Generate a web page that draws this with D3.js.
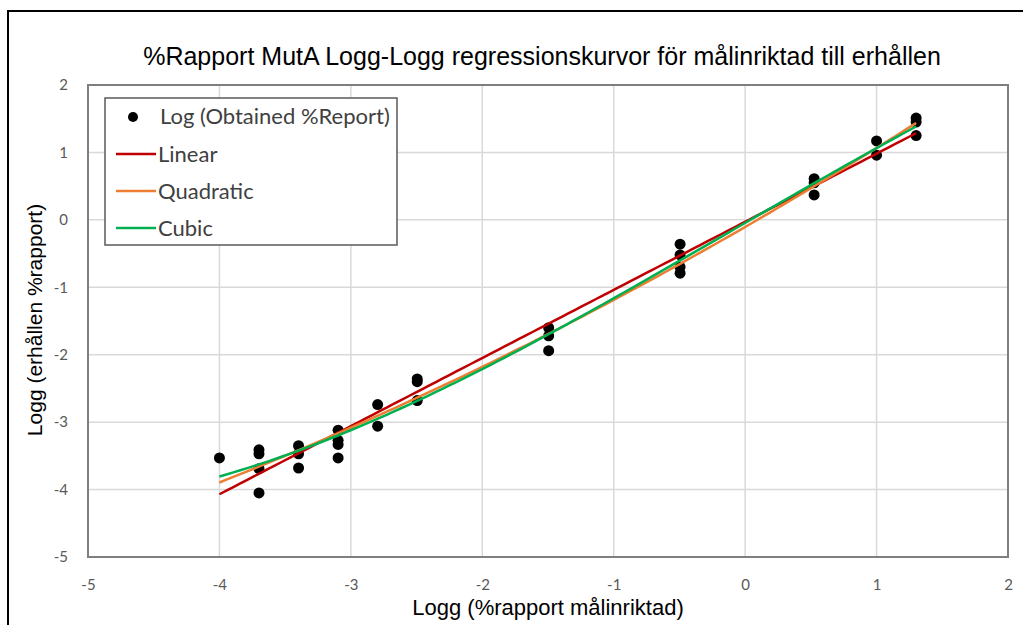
<!DOCTYPE html>
<html>
<head>
<meta charset="utf-8">
<script src="https://cdn.jsdelivr.net/npm/d3@7"></script>
<style>
  html, body { margin: 0; padding: 0; background: #fff; }
  svg { display: block; }
</style>
</head>
<body>
<svg id="chart" width="1023" height="625"></svg>
<script>
// Log10 of target %report (x) and log10 of obtained %report (y)
const targetLog = [
  -4.0,
  -3.699, -3.699, -3.699, -3.699,
  -3.398, -3.398, -3.398,
  -3.097, -3.097, -3.097, -3.097,
  -2.796, -2.796,
  -2.495, -2.495, -2.495,
  -1.495, -1.495, -1.495,
  -0.495, -0.495, -0.495, -0.495,
  0.525, 0.525, 0.525,
  1.0, 1.0,
  1.301, 1.301, 1.301
];
const obtainedLog = [
  -3.53,
  -3.41, -3.47, -3.69, -4.05,
  -3.35, -3.47, -3.68,
  -3.12, -3.27, -3.33, -3.53,
  -2.74, -3.06,
  -2.36, -2.40, -2.68,
  -1.60, -1.72, -1.94,
  -0.36, -0.52, -0.70, -0.79,
  0.61, 0.55, 0.37,
  1.17, 0.96,
  1.51, 1.45, 1.25
];

// Regression curves: name, polynomial degree, colour
const fitNames = ["Linear", "Quadratic", "Cubic"];
const fitDegrees = [1, 2, 3];
const fitColors = ["#c00000", "#ed7d31", "#00b050"];

const xTicks = [-5, -4, -3, -2, -1, 0, 1, 2];
const yTicks = [-5, -4, -3, -2, -1, 0, 1, 2];

const titleText = "%Rapport MutA Logg-Logg regressionskurvor för målinriktad till erhållen";
const xTitle = "Logg (%rapport målinriktad)";
const yTitle = "Logg (erhållen %rapport)";
const pointLabel = "Log (Obtained %Report)";

const svg = d3.select("#chart");
const W = 1023, H = 625;
const plot = { left: 88, top: 85, right: 1008, bottom: 557 };

const x = d3.scaleLinear().domain([-5, 2]).range([plot.left, plot.right]);
const y = d3.scaleLinear().domain([-5, 2]).range([plot.bottom, plot.top]);

// Least-squares polynomial fit (normal equations, Gaussian elimination)
function polyFit(xs, ys, deg) {
  const n = deg + 1;
  const A = Array.from({ length: n }, () => new Array(n + 1).fill(0));
  xs.forEach((xv, k) => {
    for (let i = 0; i < n; i++) {
      for (let j = 0; j < n; j++) A[i][j] += Math.pow(xv, i + j);
      A[i][n] += ys[k] * Math.pow(xv, i);
    }
  });
  for (let c = 0; c < n; c++) {
    let p = c;
    for (let r = c + 1; r < n; r++) if (Math.abs(A[r][c]) > Math.abs(A[p][c])) p = r;
    [A[c], A[p]] = [A[p], A[c]];
    for (let r = 0; r < n; r++) {
      if (r === c) continue;
      const f = A[r][c] / A[c][c];
      for (let j = c; j <= n; j++) A[r][j] -= f * A[c][j];
    }
  }
  return A.map((row, i) => row[n] / row[i]);
}
const evalPoly = (coef, xv) => coef.reduce((s, c, i) => s + c * Math.pow(xv, i), 0);

// Outer frame
svg.append("rect")
  .attr("x", 8).attr("y", 11).attr("width", W + 10).attr("height", H + 10)
  .attr("fill", "none").attr("stroke", "#000").attr("stroke-width", 2);

// Title
svg.append("text")
  .attr("x", 542).attr("y", 65)
  .attr("text-anchor", "middle")
  .attr("font-family", "Liberation Sans, Arial, sans-serif")
  .attr("font-size", 25).attr("fill", "#000")
  .text(titleText);

// Grid
const grid = svg.append("g");
grid.selectAll(".gx").data(xTicks).join("line")
  .attr("x1", d => x(d)).attr("x2", d => x(d))
  .attr("y1", plot.top).attr("y2", plot.bottom)
  .attr("stroke", "#d9d9d9").attr("stroke-width", 1.5);
grid.selectAll(".gy").data(yTicks).join("line")
  .attr("y1", d => y(d)).attr("y2", d => y(d))
  .attr("x1", plot.left).attr("x2", plot.right)
  .attr("stroke", "#d9d9d9").attr("stroke-width", 1.5);

// Axes (labels only, via d3 axes)
const tickFont = "Lato, 'Open Sans', sans-serif";
const xAxis = svg.append("g")
  .attr("transform", `translate(0,${plot.bottom})`)
  .call(d3.axisBottom(x).tickValues(xTicks).tickSize(0).tickPadding(22).tickFormat(d3.format("d")));
const yAxis = svg.append("g")
  .attr("transform", `translate(${plot.left},0)`)
  .call(d3.axisLeft(y).tickValues(yTicks).tickSize(0).tickPadding(20).tickFormat(d3.format("d")));
[xAxis, yAxis].forEach(a => {
  a.select(".domain").remove();
  a.selectAll("text").attr("font-family", tickFont).attr("font-size", 15).attr("fill", "#595959");
});
xAxis.selectAll("text").text(d => d < 0 ? "-" + Math.abs(d) : d);
yAxis.selectAll("text").text(d => d < 0 ? "-" + Math.abs(d) : d);

// Plot border
svg.append("rect")
  .attr("x", plot.left).attr("y", plot.top)
  .attr("width", plot.right - plot.left).attr("height", plot.bottom - plot.top)
  .attr("fill", "none").attr("stroke", "#7f7f7f").attr("stroke-width", 2);

// Points
const pts = targetLog.map((xv, i) => ({ x: xv, y: obtainedLog[i] }));
svg.append("g").selectAll("circle").data(pts).join("circle")
  .attr("cx", d => x(d.x)).attr("cy", d => y(d.y)).attr("r", 5.5)
  .attr("fill", "#000");

// Regression curves
const xMin = d3.min(targetLog), xMax = d3.max(targetLog);
const line = d3.line().x(d => x(d[0])).y(d => y(d[1]));
fitDegrees.forEach((deg, i) => {
  const coef = polyFit(targetLog, obtainedLog, deg);
  const samples = d3.range(0, 101).map(k => {
    const xv = xMin + (xMax - xMin) * k / 100;
    return [xv, evalPoly(coef, xv)];
  });
  svg.append("path")
    .attr("d", line(samples))
    .attr("fill", "none").attr("stroke", fitColors[i]).attr("stroke-width", 2.5);
});

// Legend
const lg = svg.append("g");
lg.append("rect")
  .attr("x", 105).attr("y", 98).attr("width", 292).attr("height", 147)
  .attr("fill", "#fff").attr("stroke", "#595959").attr("stroke-width", 1.5);
const legendFont = "Lato, 'Open Sans', sans-serif";
lg.append("circle").attr("cx", 133).attr("cy", 117).attr("r", 5).attr("fill", "#000");
lg.append("text").attr("x", 160).attr("y", 124)
  .attr("font-family", legendFont).attr("font-size", 22).attr("fill", "#404040")
  .text(pointLabel);
fitNames.forEach((name, i) => {
  const cy = 154 + i * 37;
  lg.append("line").attr("x1", 116).attr("x2", 156).attr("y1", cy).attr("y2", cy)
    .attr("stroke", fitColors[i]).attr("stroke-width", 2.5);
  lg.append("text").attr("x", 158).attr("y", cy + 8)
    .attr("font-family", legendFont).attr("font-size", 22).attr("fill", "#404040")
    .text(name);
});

// Axis titles
svg.append("text")
  .attr("x", 548).attr("y", 615)
  .attr("text-anchor", "middle")
  .attr("font-family", "Liberation Sans, Arial, sans-serif")
  .attr("font-size", 22).attr("fill", "#000")
  .text(xTitle);
svg.append("text")
  .attr("transform", "translate(42,320) rotate(-90)")
  .attr("text-anchor", "middle")
  .attr("font-family", "Liberation Sans, Arial, sans-serif")
  .attr("font-size", 21).attr("fill", "#000")
  .text(yTitle);
</script>
</body>
</html>
